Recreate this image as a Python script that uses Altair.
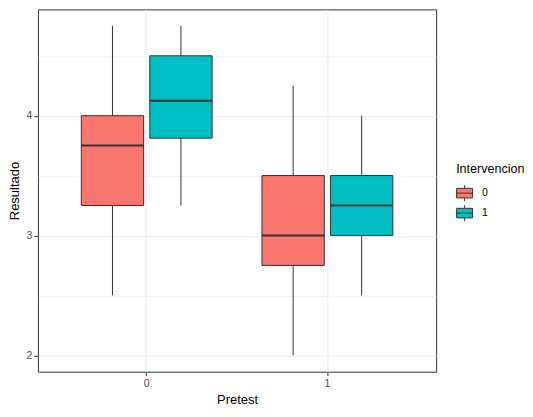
import altair as alt
import pandas as pd

# boxplot summary per Pretest x Intervencion group
pretest = ["0", "0", "1", "1"]
intervencion = ["0", "1", "0", "1"]
lower = [2.5, 3.25, 2.0, 2.5]
q1 = [3.25, 3.8125, 2.75, 3.0]
median = [3.75, 4.125, 3.0, 3.25]
q3 = [4.0, 4.5, 3.5, 3.5]
upper = [4.75, 4.75, 4.25, 4.0]

df = pd.DataFrame({
    "Pretest": pretest,
    "Intervencion": intervencion,
    "lower": lower,
    "q1": q1,
    "median": median,
    "q3": q3,
    "upper": upper,
})

ink = "#333333"
y_ticks = [2, 2.5, 3, 3.5, 4, 4.5]
box_path = "M-1,-0.6H1V0.6H-1Z M-1,0H1 M0,-0.6V-1 M0,0.6V1"

x_enc = alt.X(
    "Pretest:N",
    title="Pretest",
    scale=alt.Scale(paddingInner=0.276, paddingOuter=0.24),
    axis=alt.Axis(labelAngle=0, grid=True, gridColor="#EBEBEB", domain=False,
                  tickColor=ink, tickSize=4, labelPadding=3, titlePadding=4),
)
xoff = alt.XOffset("Intervencion:N", scale=alt.Scale(paddingInner=0.09, paddingOuter=0))
y_scale = alt.Scale(domain=[1.8625, 4.8875], nice=False, zero=False)
fill = alt.Color(
    "Intervencion:N",
    scale=alt.Scale(domain=["0", "1"], range=["#F8766D", "#00BFC4"]),
    legend=alt.Legend(orient="none", legendX=419, legendY=154, symbolType=box_path,
                      symbolSize=256, symbolStrokeColor=ink, symbolStrokeWidth=1,
                      symbolOpacity=1, titleFontWeight="normal", rowPadding=-1,
                      titlePadding=9, labelOffset=9),
)

base = alt.Chart(df)

whisker = base.mark_rule(color=ink, strokeWidth=1).encode(
    x=x_enc, xOffset=xoff,
    y=alt.Y("lower:Q", scale=y_scale, title="Resultado",
            axis=alt.Axis(values=y_ticks,
                          labelExpr="datum.value % 1 == 0 ? format(datum.value, 'd') : ''",
                          domain=False, tickColor=ink, tickSize=4, labelPadding=2,
                          titlePadding=5,
                          tickOpacity={"condition": {"test": "datum.value % 1 != 0", "value": 0}, "value": 1},
                          gridColor="#EBEBEB",
                          gridWidth={"condition": {"test": "datum.value % 1 != 0", "value": 0.6}, "value": 1})),
    y2="upper:Q",
)

box = base.mark_bar(stroke=ink, strokeWidth=1, opacity=1).encode(
    x=x_enc, xOffset=xoff,
    y=alt.Y("q1:Q", scale=y_scale),
    y2="q3:Q",
    fill=fill,
)

mid = base.mark_bar(stroke=ink, strokeWidth=2, fillOpacity=0).encode(
    x=x_enc, xOffset=xoff,
    y=alt.Y("median:Q", scale=y_scale),
    y2="median:Q",
)

chart = alt.layer(whisker, box, mid).properties(
    width=399, height=363,
    padding={"left": 0, "top": 1, "right": 0, "bottom": 0},
).configure_view(
    stroke=ink, strokeWidth=1
).configure_axis(
    labelFont="Liberation Sans", titleFont="Liberation Sans",
    labelFontSize=10.5, titleFontSize=13, labelColor="#4D4D4D",
    titleColor="#000000", titleFontWeight="normal",
).configure_legend(
    labelFont="Liberation Sans", titleFont="Liberation Sans",
    labelFontSize=10.5, titleFontSize=12.6, labelColor="#000000", titleColor="#000000",
)

chart.save("out.html", embed_options={"renderer": "svg", "actions": False})
